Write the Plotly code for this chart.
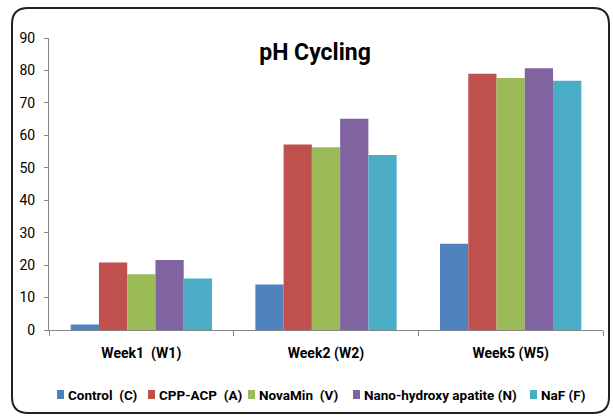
import plotly.graph_objects as go

categories = ["Week1  (W1)", "Week2 (W2)", "Week5 (W5)"]
series_names = ["Control  (C)", "CPP-ACP  (A)", "NovaMin  (V)", "Nano-hydroxy apatite (N)", "NaF (F)"]
control = [1.7, 14.0, 26.6]
cpp_acp = [20.8, 57.2, 79.0]
novamin = [17.2, 56.3, 77.7]
nano_ha = [21.6, 65.1, 80.7]
naf = [15.9, 53.9, 76.8]
y_ticks = [0, 10, 20, 30, 40, 50, 60, 70, 80, 90]
colors = ["#4F81BD", "#C0504D", "#9BBB59", "#8064A2", "#4BACC6"]

FONT = "Roboto, sans-serif"

W, H = 613, 417
L, R, T, B = 49, 10, 38, 87
pw, ph = W - L - R, H - T - B

def px(x):
    return (x - L) / pw

def py(y):
    return (H - B - y) / ph

fig = go.Figure()
for name, vals, c in zip(series_names, [control, cpp_acp, novamin, nano_ha, naf], colors):
    fig.add_trace(go.Bar(x=categories, y=vals, name=name, marker=dict(color=c, line=dict(width=0)),
                         showlegend=False))

# rounded frame
x0, x1, y0, y1, r = px(12), px(609), py(8), py(413), 16
rx, ry = r / pw, r / ph
path = (f"M {x0+rx},{y0} L {x1-rx},{y0} Q {x1},{y0} {x1},{y0-ry} "
        f"L {x1},{y1+ry} Q {x1},{y1} {x1-rx},{y1} L {x0+rx},{y1} "
        f"Q {x0},{y1} {x0},{y1+ry} L {x0},{y0-ry} Q {x0},{y0} {x0+rx},{y0} Z")
fig.add_shape(type="path", path=path, xref="paper", yref="paper",
              line=dict(color="#222222", width=2), fillcolor="rgba(0,0,0,0)", layer="below")

# legend (drawn as keys + text, positioned like the reference)
key_x = [57, 148, 248, 353, 530]
legend_y = 395
for kx, name, c in zip(key_x, series_names, colors):
    fig.add_shape(type="rect", xref="paper", yref="paper",
                  x0=px(kx), x1=px(kx + 7), y0=py(legend_y - 5), y1=py(legend_y + 4),
                  fillcolor=c, line=dict(width=0))
    fig.add_annotation(x=px(kx + 9), y=py(legend_y), xref="paper", yref="paper",
                       text=f"<b>{name}</b>", showarrow=False, xanchor="left", yanchor="middle",
                       font=dict(size=13.5, family=FONT, color="black"))

fig.update_layout(
    width=W, height=H,
    margin=dict(l=L, r=R, t=T, b=B),
    paper_bgcolor="white", plot_bgcolor="white",
    barmode="group", bargap=0.235, bargroupgap=0,
    font=dict(family=FONT, color="#1a1a1a"),
    title=dict(text="<b>pH Cycling</b>", x=315 / W, xanchor="center", y=1 - 52 / H, yanchor="middle",
               font=dict(size=23, family=FONT, color="black")),
    showlegend=False,
    xaxis=dict(showline=True, linecolor="#868686", linewidth=1, ticks="outside", tickson="boundaries",
               ticklen=5, tickcolor="#868686", showgrid=False, ticklabelstandoff=10,
               tickfont=dict(size=14, family=FONT, color="black", weight="bold")),
    yaxis=dict(range=[0, 90], tickvals=y_ticks, showline=True, linecolor="#868686", linewidth=1,
               ticks="outside", ticklen=4, tickcolor="#868686", showgrid=False, zeroline=False,
               ticklabelstandoff=6, tickfont=dict(size=14, family=FONT, color="black")),
)

fig.write_html("out.html", config={"displayModeBar": False},
               post_script="document.body.style.margin='0';")
